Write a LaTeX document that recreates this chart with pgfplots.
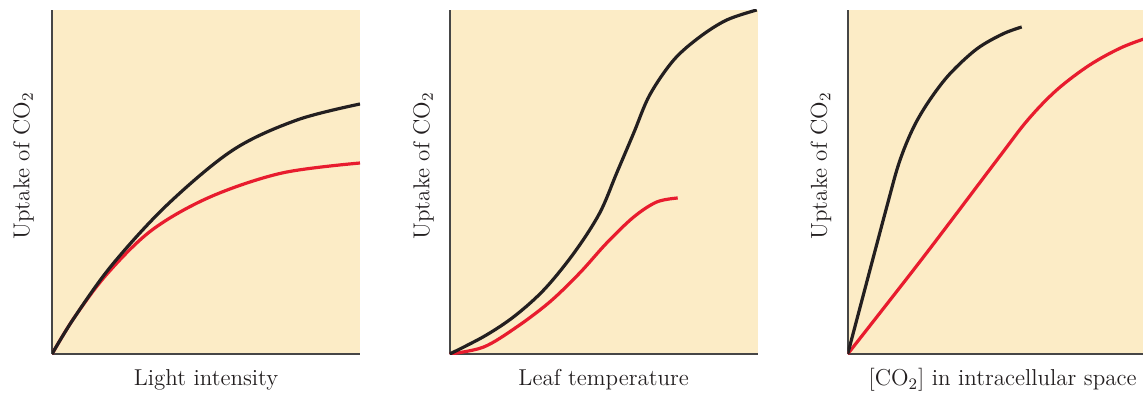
\documentclass[border=0pt]{standalone}
\usepackage{pgfplots}
\pgfplotsset{compat=1.18}
\definecolor{bgcol}{RGB}{252,236,198}
\definecolor{redc}{RGB}{232,28,46}
\definecolor{blk}{RGB}{35,31,32}
\definecolor{axc}{RGB}{70,70,70}
\pgfplotsset{
  panel/.style={
    scale only axis, width=154pt, height=172pt,
    xmin=0, xmax=308, ymin=0, ymax=344,
    axis lines*=left, ticks=none,
    axis line style={axc, line width=0.8pt},
    axis background/.style={fill=bgcol},
    anchor=south west,
    label style={font=\fontsize{11.5}{13}\selectfont, text=blk},
    clip=true,
  },
  bl/.style={blk, line width=1.6pt, smooth, tension=0.55, no marks},
  rd/.style={redc, line width=1.6pt, smooth, tension=0.55, no marks},
}
\begin{document}
\begin{tikzpicture}
\useasboundingbox (0,0) rectangle (571.5pt,196pt);
\clip (0,0) rectangle (571.5pt,196pt);
% Panel 1
\begin{axis}[panel, at={(26pt,19pt)},
  xlabel={Light intensity}, ylabel={Uptake of CO$_2$},
  xlabel style={at={(rel axis cs:0.5,-0.075)}, anchor=center},
  ylabel style={at={(rel axis cs:-0.0925,0.547)}, anchor=center}]
\addplot[rd] coordinates {(0,0) (22,36) (55,80) (100,124) (158,157) (230,181) (308,191)};
\addplot[bl] coordinates {(0,0) (22,36) (60,89) (115,149) (181,204) (245,234) (308,250)};
\end{axis}
% Panel 2
\begin{axis}[panel, at={(224.85pt,19pt)},
  xlabel={Leaf temperature}, ylabel={Uptake of CO$_2$},
  xlabel style={at={(rel axis cs:0.5,-0.075)}, anchor=center},
  ylabel style={at={(rel axis cs:-0.085,0.547)}, anchor=center}]
\addplot[rd] coordinates {(0,0) (34,7) (67,27) (100,52) (130,81) (157,111) (184,137) (207,152) (228,156)};
\addplot[bl] coordinates {(0,0) (35,18) (65,38) (95,65) (125,102) (150,141) (167,181) (184,221) (200,259) (224,294) (250,317) (277,334) (307,344)};
\end{axis}
% Panel 3
\begin{axis}[panel, at={(423.85pt,19pt)},
  xlabel={[CO$_2$] in intracellular space}, ylabel={Uptake of CO$_2$},
  xlabel style={at={(rel axis cs:0.503,-0.075)}, anchor=center},
  ylabel style={at={(rel axis cs:-0.087,0.547)}, anchor=center}]
\addplot[rd] coordinates {(0,0) (75,96) (150,195) (180,234) (209,264) (242,289) (275,307) (308,319)};
\addplot[bl] coordinates {(0,0) (39,147) (52,193) (66,227) (82,254) (102,280) (129,305) (155,320) (174,327)};
\end{axis}
\end{tikzpicture}
\end{document}
